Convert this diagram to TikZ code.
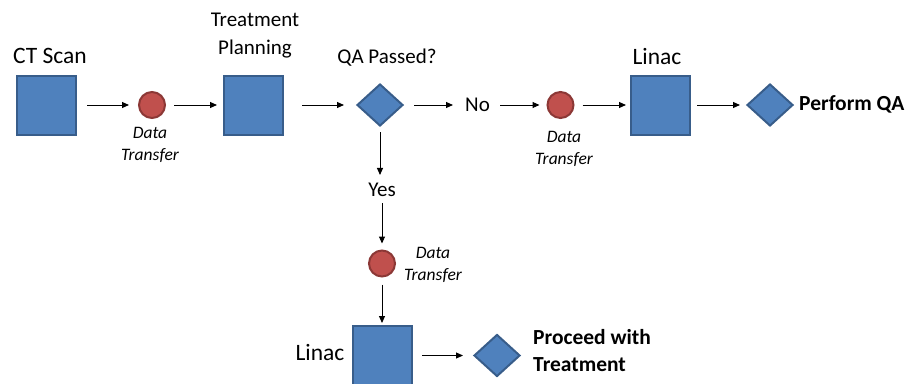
\documentclass[tikz,border=0pt]{standalone}
\usepackage{fontspec}
\setmainfont{Carlito}
\usetikzlibrary{shapes.geometric,arrows.meta}
\definecolor{boxfill}{HTML}{4F81BD}
\definecolor{boxedge}{HTML}{385D8A}
\definecolor{dotfill}{HTML}{C0504D}
\definecolor{dotedge}{HTML}{8C3836}
\begin{document}
\begin{tikzpicture}[x=1pt,y=-1pt,
 box/.style={draw=boxedge,fill=boxfill,line width=2pt,minimum size=59pt,inner sep=0pt},
 dec/.style={diamond,draw=boxedge,fill=boxfill,line width=2pt,minimum width=46pt,minimum height=42pt,inner sep=0pt},
 dot/.style={circle,draw=dotedge,fill=dotfill,line width=2pt,minimum size=26pt,inner sep=0pt},
 big/.style={font=\fontsize{23.5}{26}\selectfont,inner sep=0pt},
 mid/.style={font=\fontsize{21}{28}\selectfont,inner sep=0pt,align=center},
 bold/.style={font=\bfseries\fontsize{21.5}{27}\selectfont,inner sep=0pt,align=left,anchor=west},
 dt/.style={font=\itshape\fontsize{17.5}{22}\selectfont,inner sep=0pt,align=center},
 arr/.style={-{Triangle[length=7pt,width=6pt]},line width=1pt}]
\useasboundingbox (0,0) rectangle (907,383);
% top row
\node[box] (ct) at (46.5,105) {};
\node[big] (ctl) at (50,56) {CT Scan};
\node[dot] (d1) at (152,105) {};
\node[dt] (d1l) at (150,145) {Data\\Transfer};
\node[box] (tp) at (253.5,105) {};
\node[mid] (tpl) at (255,36) {Treatment\\Planning};
\node[dec] (qa) at (380,105) {};
\node[mid] (qal) at (387,58) {QA Passed?};
\node[mid,anchor=west] (no) at (465,105) {No};
\node[dot] (d2) at (560.5,105) {};
\node[dt] (d2l) at (564,149) {Data\\Transfer};
\node[box] (li) at (660.5,105) {};
\node[big] (lil) at (657,56) {Linac};
\node[dec] (pq) at (770,105) {};
\node[bold] (pql) at (799,104) {Perform QA};
% vertical branch
\node[mid] (yes) at (382,190) {Yes};
\node[dot] (d3) at (382,263.5) {};
\node[dt] (d3l) at (433,265) {Data\\Transfer};
\node[box] (l2) at (382.5,355.5) {};
\node[big] (l2l) at (320,352) {Linac};
\node[dec] (pt) at (497,355.5) {};
\node[bold] (ptl) at (533,351) {Proceed with\\Treatment};
% connectors
\draw[arr,shorten <=10pt,shorten >=9pt] (ct.east) -- (d1.west);
\draw[arr,shorten <=8pt,shorten >=6pt] (d1.east) -- (tp.west);
\draw[arr,shorten <=18pt,shorten >=12pt] (tp.east) -- (qa.west);
\draw[arr,shorten <=10pt,shorten >=12pt] (qa.east) -- (no.west);
\draw[arr,shorten <=10pt,shorten >=7pt] (no.east) -- (d2.west);
\draw[arr,shorten <=8pt,shorten >=4pt] (d2.east) -- (li.west);
\draw[arr,shorten <=6pt,shorten >=6pt] (li.east) -- (pq.west);
\draw[arr,shorten <=5pt,shorten >=8pt] (qa.south) -- (yes.north -| qa.south);
\draw[arr,shorten <=6pt,shorten >=6pt] (yes.south) -- (d3.north);
\draw[arr,shorten <=7pt,shorten >=2pt] (d3.south) -- (l2.north -| d3.south);
\draw[arr,shorten <=9pt,shorten >=10pt] (l2.east) -- (pt.west);
\end{tikzpicture}
\end{document}
